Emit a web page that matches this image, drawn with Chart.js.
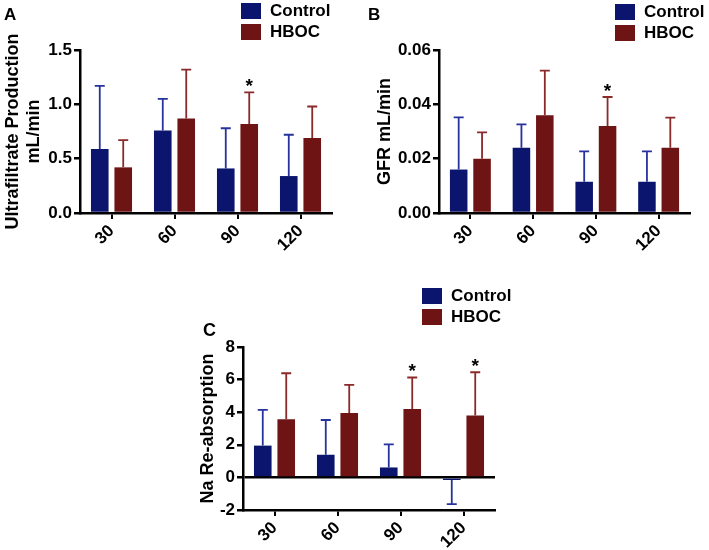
<!DOCTYPE html>
<html>
<head>
<meta charset="utf-8">
<script src="https://cdn.jsdelivr.net/npm/chart.js@4.4.1/dist/chart.umd.min.js"></script>
<style>
  body { margin: 0; width: 709px; height: 550px; position: relative; background: #fff; overflow: hidden; }
  canvas { position: absolute; }
</style>
</head>
<body>
<canvas id="panelA" width="350" height="275" style="left:0;top:0"></canvas>
<canvas id="panelB" width="355" height="275" style="left:354px;top:0"></canvas>
<canvas id="panelC" width="360" height="280" style="left:180px;top:270px"></canvas>
<script>
const FONT = '"Liberation Sans", Arial, Helvetica, sans-serif';
Chart.defaults.font.family = FONT;
Chart.defaults.color = '#000';

// time points (min)
const categories = ['30', '60', '90', '120'];
const seriesNames = ['Control', 'HBOC'];

// A: ultrafiltrate production (mL/min), mean and upper error
const ufControl = [0.59, 0.76, 0.41, 0.34];
const ufControlErr = [0.58, 0.29, 0.37, 0.38];
const ufHboc = [0.42, 0.87, 0.82, 0.69];
const ufHbocErr = [0.25, 0.45, 0.29, 0.29];
const ufHbocSig = ['', '', '*', ''];

// B: GFR (mL/min)
const gfrControl = [0.016, 0.024, 0.0115, 0.0115];
const gfrControlErr = [0.0192, 0.0086, 0.0112, 0.0112];
const gfrHboc = [0.020, 0.036, 0.032, 0.024];
const gfrHbocErr = [0.0097, 0.0164, 0.0107, 0.0111];
const gfrHbocSig = ['', '', '*', ''];

// C: Na re-absorption
const naControl = [1.95, 1.39, 0.61, -0.16];
const naControlErr = [2.19, 2.13, 1.42, 1.48];
const naHboc = [3.57, 3.95, 4.20, 3.79];
const naHbocErr = [2.82, 1.73, 1.93, 2.66];
const naHbocSig = ['', '', '*', '*'];

const barColors = ['#0c156e', '#6f1414'];
const errColors = ['#27339c', '#8a2a2a'];

// error bars, asterisks, legend and panel letter
const panelDecor = {
  id: 'panelDecor',
  afterDatasetsDraw(chart, args, o) {
    const ctx = chart.ctx, ys = chart.scales.y;
    ctx.save();
    chart.data.datasets.forEach((ds, i) => {
      chart.getDatasetMeta(i).data.forEach((bar, j) => {
        const v = ds.data[j];
        const tip = v >= 0 ? v + ds.err[j] : v - ds.err[j];
        const yt = ys.getPixelForValue(tip);
        ctx.strokeStyle = errColors[i];
        ctx.lineWidth = 1.8;
        ctx.beginPath();
        ctx.moveTo(bar.x, bar.y);
        ctx.lineTo(bar.x, yt);
        ctx.moveTo(bar.x - 5, yt);
        ctx.lineTo(bar.x + 5, yt);
        ctx.stroke();
        if (ds.sig && ds.sig[j]) {
          ctx.font = 'bold 19px ' + FONT;
          ctx.fillStyle = '#000';
          ctx.textAlign = 'center';
          ctx.textBaseline = 'alphabetic';
          const m = ctx.measureText(ds.sig[j]);
          ctx.fillText(ds.sig[j], bar.x, yt - 6 - m.actualBoundingBoxDescent);
        }
      });
    });
    ctx.restore();
  },
  afterDraw(chart, args, o) {
    const ctx = chart.ctx;
    ctx.save();
    ctx.font = 'bold 17px ' + FONT;
    ctx.textAlign = 'left';
    ctx.textBaseline = 'middle';
    chart.data.datasets.forEach((ds, i) => {
      const y = o.legendY + i * 21;
      ctx.fillStyle = ds.backgroundColor;
      ctx.fillRect(o.legendX, y, 20, 16);
      ctx.fillStyle = '#000';
      ctx.fillText(ds.label, o.legendX + 29, y + 8.5);
    });
    ctx.font = 'bold ' + o.letterSize + 'px ' + FONT;
    ctx.textBaseline = 'alphabetic';
    ctx.fillText(o.letter, o.letterX, o.letterY);
    ctx.restore();
  }
};

function makePanel(id, p) {
  const axisBorder = { display: true, color: '#000', width: 2.5 };
  return new Chart(document.getElementById(id), {
    type: 'bar',
    data: {
      labels: categories,
      datasets: [
        { label: seriesNames[0], data: p.control, err: p.controlErr, backgroundColor: barColors[0] },
        { label: seriesNames[1], data: p.hboc, err: p.hbocErr, sig: p.hbocSig, backgroundColor: barColors[1] }
      ]
    },
    options: {
      responsive: false,
      animation: false,
      layout: { padding: p.padding },
      datasets: { bar: { barPercentage: 0.75, categoryPercentage: 0.745 } },
      plugins: {
        legend: { display: false },
        tooltip: { enabled: false },
        panelDecor: p.decor
      },
      scales: {
        x: {
          afterFit: s => { s.height = p.xHeight; },
          border: axisBorder,
          grid: { drawOnChartArea: false, offset: false, tickLength: 6, color: '#000', lineWidth: 2 },
          ticks: { font: { size: 17, weight: 'bold' }, minRotation: 45, maxRotation: 45, padding: 2 }
        },
        y: {
          min: p.min,
          max: p.max,
          afterFit: s => { s.width = p.yWidth; },
          border: axisBorder,
          grid: {
            drawOnChartArea: p.zeroLine,
            color: c => (c.tick && c.tick.value === 0) ? '#000' : 'rgba(0,0,0,0)',
            tickColor: '#000',
            tickLength: 6,
            lineWidth: 2.5
          },
          ticks: {
            stepSize: p.step,
            callback: v => v.toFixed(p.decimals),
            font: { size: 17, weight: 'bold' },
            padding: 2
          },
          title: {
            display: true,
            text: p.title,
            font: { size: 18, weight: 'bold', lineHeight: 1.2 },
            padding: { top: p.titlePad, bottom: 0 }
          }
        }
      }
    },
    plugins: [panelDecor]
  });
}

makePanel('panelA', {
  control: ufControl, controlErr: ufControlErr, hboc: ufHboc, hbocErr: ufHbocErr, hbocSig: ufHbocSig,
  min: 0, max: 1.5, step: 0.5, decimals: 1,
  title: ['Ultrafiltrate Production', 'mL/min'], titlePad: 2,
  padding: { top: 50, right: 18, bottom: 17, left: 0 }, xHeight: 45, yWidth: 80, zeroLine: false,
  decor: { legendX: 241, legendY: 3, letter: 'A', letterX: 4, letterY: 20, letterSize: 17 }
});

makePanel('panelB', {
  control: gfrControl, controlErr: gfrControlErr, hboc: gfrHboc, hbocErr: gfrHbocErr, hbocSig: gfrHbocSig,
  min: 0, max: 0.06, step: 0.02, decimals: 2,
  title: 'GFR mL/min', titlePad: 20,
  padding: { top: 50, right: 19, bottom: 17, left: 0 }, xHeight: 45, yWidth: 85, zeroLine: false,
  decor: { legendX: 261, legendY: 4, letter: 'B', letterX: 14, letterY: 20, letterSize: 17 }
});

makePanel('panelC', {
  control: naControl, controlErr: naControlErr, hboc: naHboc, hbocErr: naHbocErr, hbocSig: naHbocSig,
  min: -2, max: 8, step: 2, decimals: 0,
  title: 'Na Re-absorption', titlePad: 17,
  padding: { top: 77, right: 45, bottom: 0, left: 0 }, xHeight: 40, yWidth: 63, zeroLine: true,
  decor: { legendX: 242, legendY: 18, letter: 'C', letterX: 23, letterY: 66, letterSize: 18 }
});
</script>
</body>
</html>
